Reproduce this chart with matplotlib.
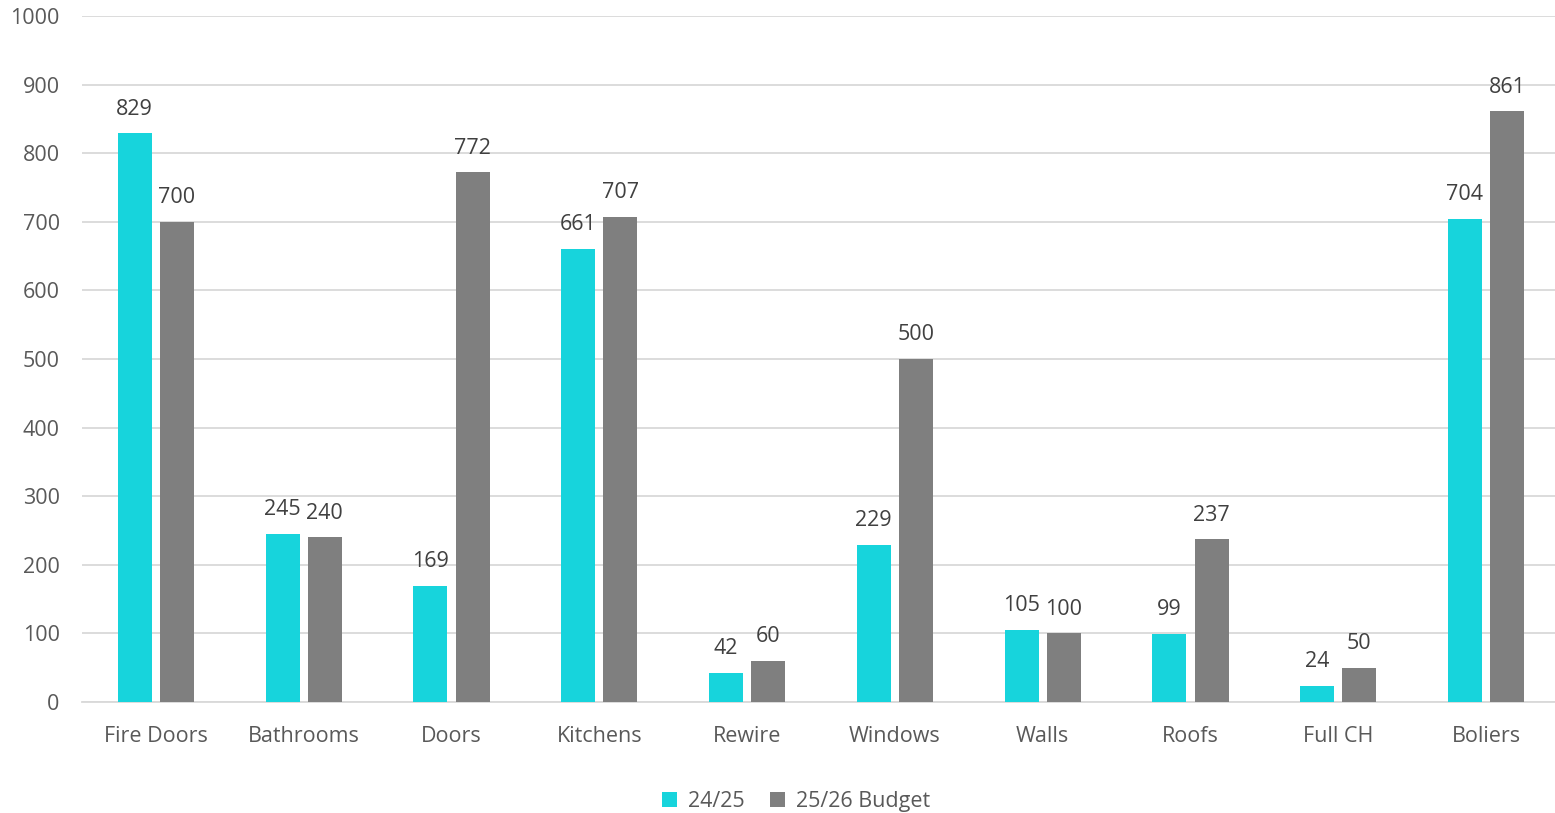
import numpy as np
import matplotlib
matplotlib.use("Agg")
import matplotlib.pyplot as plt

categories = ["Fire Doors", "Bathrooms", "Doors", "Kitchens", "Rewire",
              "Windows", "Walls", "Roofs", "Full CH", "Boliers"]
actual_2425 = [829, 245, 169, 661, 42, 229, 105, 99, 24, 704]
budget_2526 = [700, 240, 772, 707, 60, 500, 100, 237, 50, 861]

plt.rcParams["font.family"] = ["Open Sans", "DejaVu Sans"]
text_color = "#595959"
fs = 15.5

fig = plt.figure(figsize=(15.55, 8.13), dpi=100)
ax = fig.add_axes([0.0527, 0.1365, 0.9505, 0.8438])

x = np.arange(len(categories))
w = 0.23
off = 0.143
b1 = ax.bar(x - off, actual_2425, w, color="#17D4DC", label="24/25", zorder=3)
b2 = ax.bar(x + off, budget_2526, w, color="#7F7F7F", label="25/26 Budget", zorder=3)

for bars in (b1, b2):
    for rect in bars:
        h = rect.get_height()
        ax.text(rect.get_x() + rect.get_width() / 2, h + 20, f"{h:.0f}",
                ha="center", va="bottom", fontsize=fs, color="#404040")

ax.set_xlim(-0.5, len(categories) - 0.5)
ax.set_ylim(0, 1000)
ax.set_yticks(range(0, 1001, 100))
ax.set_xticks(x)
ax.set_xticklabels(categories)
ax.tick_params(axis="both", length=0, labelsize=fs, colors=text_color)
ax.tick_params(axis="x", pad=17)
ax.tick_params(axis="y", pad=16)
ax.grid(axis="y", color="#D9D9D9", linewidth=1.3, zorder=0)
for s in ["top", "right", "left"]:
    ax.spines[s].set_visible(False)
ax.spines["bottom"].set_color("#D9D9D9")
ax.spines["bottom"].set_linewidth(1.3)

leg = fig.legend(loc="lower center", bbox_to_anchor=(0.512, -0.023), ncol=2,
                 frameon=False, fontsize=fs, handlelength=0.7, handleheight=0.7,
                 columnspacing=1.2, handletextpad=0.5)
for t in leg.get_texts():
    t.set_color(text_color)

fig.savefig("out.png", dpi=100)
